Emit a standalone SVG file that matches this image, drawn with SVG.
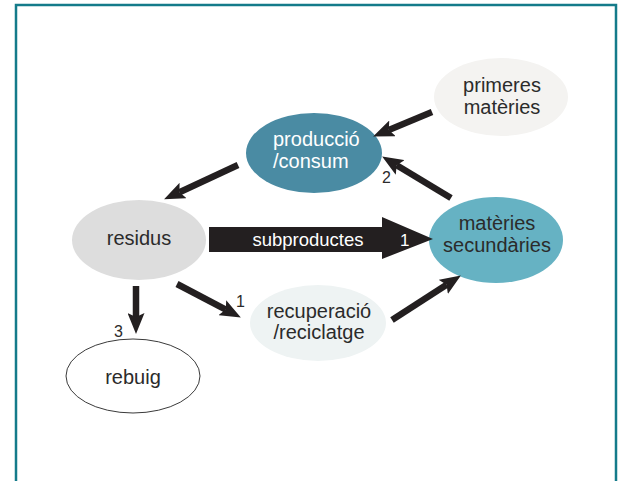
<svg xmlns="http://www.w3.org/2000/svg" width="622" height="481" viewBox="0 0 622 481">
  <defs>
    <style>
      .lbl { font-family: "Liberation Sans", Arial, Helvetica, sans-serif; font-size: 20px; fill: #2b2b2b; text-anchor: middle; }
      .lbl-w { fill: #ffffff; text-anchor: start; }
      .num { font-family: "Liberation Sans", Arial, Helvetica, sans-serif; font-size: 16px; fill: #2b2b2b; }
      .conn { stroke: #231f20; stroke-width: 6.5; fill: none; marker-end: url(#head); }
    </style>
    <marker id="head" markerUnits="userSpaceOnUse" markerWidth="21" markerHeight="17" refX="4" refY="8.5" orient="auto">
      <path d="M0,0 L21,8.5 L0,17 L4,8.5 z" fill="#231f20"/>
    </marker>
  </defs>

  <rect width="622" height="481" fill="#ffffff"/>
  <!-- frame: open at the bottom -->
  <path d="M16,481 L16,5 L616,5 L616,481" fill="none" stroke="#147b8a" stroke-width="2.5"/>

  <g id="primeres">
    <ellipse cx="501" cy="97" rx="67" ry="39" fill="#f4f3f1"/>
    <text class="lbl" x="502" y="92">primeres</text>
    <text class="lbl" x="502" y="114">matèries</text>
  </g>

  <g id="produccio">
    <ellipse cx="314" cy="153" rx="68" ry="40" fill="#4a8ba3"/>
    <text class="lbl lbl-w" x="273" y="146">producció</text>
    <text class="lbl lbl-w" x="273" y="168">/consum</text>
  </g>

  <g id="residus">
    <ellipse cx="139" cy="240" rx="67" ry="40" fill="#dddddd"/>
    <text class="lbl" x="139" y="245">residus</text>
  </g>

  <g id="secundaries">
    <ellipse cx="496" cy="240" rx="67" ry="43" fill="#66b2c3"/>
    <text class="lbl" x="497" y="230" fill="#1e2b30">matèries</text>
    <text class="lbl" x="497" y="252" fill="#1e2b30">secundàries</text>
  </g>

  <g id="recuperacio">
    <ellipse cx="318" cy="323" rx="68" ry="38" fill="#eef3f3"/>
    <text class="lbl" x="319" y="318">recuperació</text>
    <text class="lbl" x="319" y="339">/reciclatge</text>
  </g>

  <g id="rebuig">
    <ellipse cx="133" cy="376" rx="67" ry="37" fill="#ffffff" stroke="#3a3a3a" stroke-width="1"/>
    <text class="lbl" x="133" y="384">rebuig</text>
  </g>

  <g id="connectors">
    <line class="conn" x1="432" y1="112" x2="388.8" y2="129.9"/>
    <line class="conn" x1="451" y1="198" x2="396.7" y2="165.3"/>
    <line class="conn" x1="238" y1="165" x2="179.5" y2="192.2"/>
    <line class="conn" x1="136" y1="286" x2="136" y2="317"/>
    <line class="conn" x1="177" y1="284" x2="225.8" y2="309.6"/>
    <line class="conn" x1="392" y1="320" x2="446.6" y2="284.7"/>
    <!-- broad arrow residus -> matèries secundàries -->
    <polygon points="209,227 382,227 382,217 433,239 382,259 382,252 209,252" fill="#231f20"/>
    <text x="308" y="246" font-family="Liberation Sans, Arial, sans-serif" font-size="18.5" fill="#ffffff" text-anchor="middle">subproductes</text>
    <text x="400" y="246" font-family="Liberation Sans, Arial, sans-serif" font-size="17" fill="#ffffff">1</text>
    <text class="num" x="382" y="183">2</text>
    <text class="num" x="236" y="307">1</text>
    <text class="num" x="114" y="337">3</text>
  </g>
</svg>
